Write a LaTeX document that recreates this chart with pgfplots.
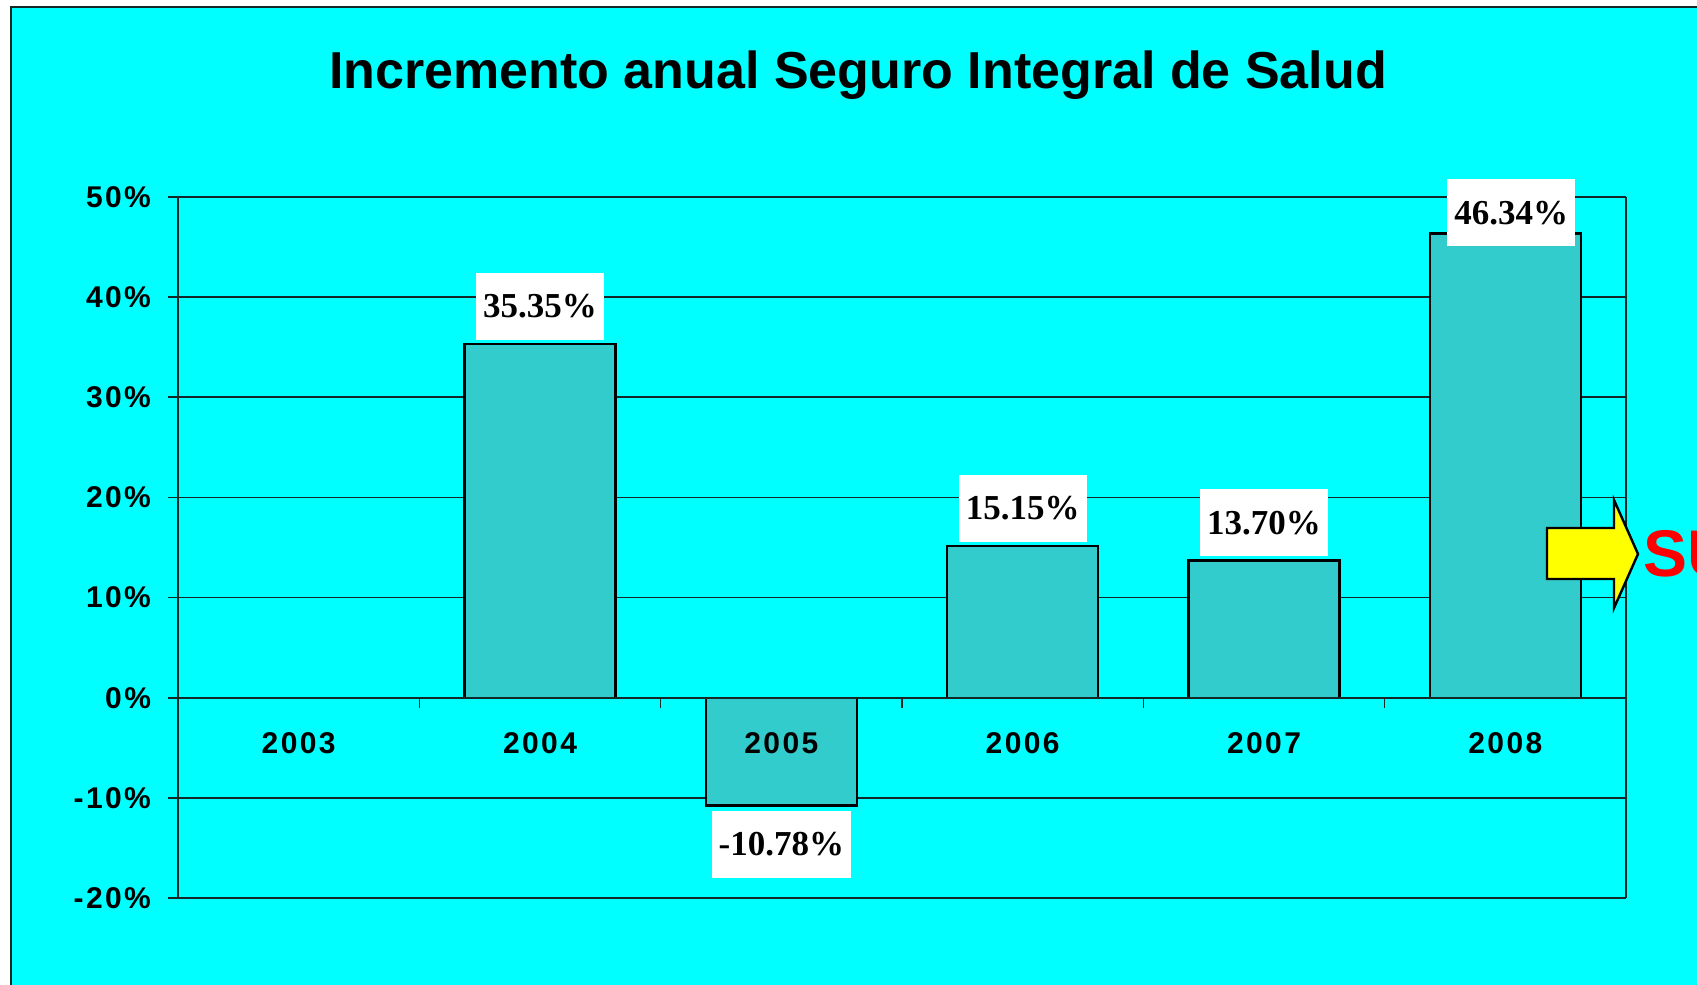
\documentclass[border=0pt]{standalone}
\usepackage{pgfplots}
\pgfplotsset{compat=1.18}
\usepackage{fontspec}
\setmainfont{Liberation Sans}
\newfontfamily\tickfont[LetterSpace=8]{Liberation Sans}
\newfontfamily\labfont{Liberation Serif}
\definecolor{bgcyan}{RGB}{0,255,255}
\definecolor{barteal}{RGB}{51,204,204}
\definecolor{gridc}{RGB}{20,40,40}
\definecolor{arrowyellow}{RGB}{255,255,0}
\pgfplotsset{
  common/.style={at={(0pt,0pt)}, anchor=south west, scale only axis,
    width=724pt, height=350.5pt,
    xmin=-0.5, xmax=5.5, ymin=-20, ymax=50,
    clip=false},
}
\begin{document}
\begin{tikzpicture}
\path[use as bounding box] (-89pt,-43.5pt) rectangle (759.5pt,449pt);
\fill[white] (-89pt,-43.5pt) rectangle (759.5pt,449pt);
\fill[bgcyan] (-83.5pt,-43.5pt) rectangle (759.5pt,445.5pt);
\draw[gridc, line width=1pt] (-83.5pt,-43.5pt) -- (-83.5pt,445.5pt) -- (759.5pt,445.5pt);
\node[font=\bfseries\fontsize{26}{30}\selectfont] at (340pt,411.5pt) {Incremento anual Seguro Integral de Salud};
% grid and bars
\begin{axis}[common,
  axis line style={draw=none},
  ybar, bar width=75.5pt, bar shift=0pt,
  ytick={-20,-10,...,50}, yticklabels={}, xtick=\empty,
  major tick length=0pt, tick style={draw=none},
  ymajorgrids, grid style={gridc, line width=0.8pt},
  point meta=explicit symbolic,
  nodes near coords={\pgfplotspointmeta\%},
  every node near coord/.append style={font=\labfont\bfseries\fontsize{17.5}{20}\selectfont,
    fill=white, inner xsep=3.5pt, inner ysep=0pt, minimum height=33.5pt, text=black},
]
\addplot[fill=barteal, draw=black, line width=1.2pt,
  every node near coord/.append style={anchor=south, yshift=1.5pt}]
  table[x=x, y=y, meta=y] {
x y
1 35.35
3 15.15
4 13.70
};
\addplot[fill=barteal, draw=black, line width=1.2pt,
  every node near coord/.append style={anchor=north, yshift=-2pt}]
  table[x=x, y=y, meta=y] {
x y
2 -10.78
};
\addplot[fill=barteal, draw=black, line width=1.2pt,
  every node near coord/.append style={anchor=south, yshift=-7pt, xshift=3pt}]
  table[x=x, y=y, meta=y] {
x y
5 46.34
};
\end{axis}
% axis lines, ticks and tick labels on top
\begin{axis}[common,
  axis x line*=middle, axis y line*=left,
  axis line style={gridc, line width=0.8pt},
  ytick={-20,-10,...,50},
  yticklabels={-20\%,-10\%,0\%,10\%,20\%,30\%,40\%,50\%},
  ytick align=outside, xtick align=outside, major tick length=5pt,
  tick style={gridc, line width=0.8pt},
  xtick={0.5,1.5,2.5,3.5,4.5}, xticklabels={},
  extra x ticks={0,1,2,3,4,5},
  extra x tick labels={2003,2004,2005,2006,2007,2008},
  extra x tick style={major tick length=0pt, xticklabel style={yshift=-14pt}},
  ticklabel style={font=\tickfont\bfseries\fontsize{15}{18}\selectfont},
  yticklabel style={xshift=-5pt},
]
\draw[gridc, line width=0.8pt] (rel axis cs:1,0) -- (rel axis cs:1,1);
\end{axis}
\draw[black, line width=1.2pt, fill=arrowyellow] (684.5pt,185pt) -- (718pt,185pt) -- (718pt,199pt) -- (730pt,172pt) -- (718pt,145pt) -- (718pt,159.5pt) -- (684.5pt,159.5pt) -- cycle;
\node[anchor=west, text=red, font=\bfseries\fontsize{33}{36}\selectfont, inner sep=0pt] at (732.5pt,172pt) {SU};
\end{tikzpicture}
\end{document}
